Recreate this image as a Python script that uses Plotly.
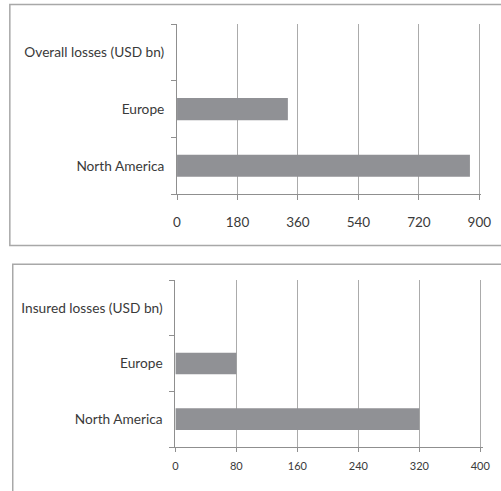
import plotly.graph_objects as go

# Data
categories_top = ["North America", "Europe", "Overall losses (USD bn)"]
overall_losses = [872, 330, None]
categories_bottom = ["North America", "Europe", "Insured losses (USD bn)"]
insured_losses = [320, 80, None]
top_ticks = [0, 180, 360, 540, 720, 900]
bottom_ticks = [0, 80, 160, 240, 320, 400]

W, H = 501, 491
BAR = "#909195"
GRID = "#ababab"
AXIS = "#8f8f8f"
TEXT = "#3a3a3a"
FONT = "Lato"

fig = go.Figure()
fig.add_trace(go.Bar(x=overall_losses, y=categories_top, orientation="h",
                     marker=dict(color=BAR, line=dict(width=0)),
                     xaxis="x", yaxis="y", showlegend=False))
fig.add_trace(go.Bar(x=insured_losses, y=categories_bottom, orientation="h",
                     marker=dict(color=BAR, line=dict(width=0)),
                     xaxis="x2", yaxis="y2", showlegend=False))

def px_x(p):
    return p / W

def px_y(p):
    return 1 - p / H

common_x = dict(showgrid=True, gridcolor=GRID, gridwidth=1, showline=True,
                linecolor=AXIS, linewidth=1, ticks="outside", ticklen=5,
                tickcolor=AXIS, zeroline=False, tickmode="array", fixedrange=True)
common_y = dict(type="category", showgrid=False, showline=True, linecolor=AXIS,
                linewidth=1, ticks="outside", ticklen=5, tickcolor=AXIS,
                tickson="boundaries", ticklabelstandoff=9, fixedrange=True,
                tickfont=dict(family=FONT, size=13.7, color=TEXT))

TOP_MAX = 906
BOT_MAX = 404

fig.update_layout(
    width=W, height=H,
    margin=dict(l=0, r=0, t=0, b=0),
    paper_bgcolor="white", plot_bgcolor="white",
    bargap=0.61,
    font=dict(family=FONT, color=TEXT),
    xaxis=dict(common_x, domain=[px_x(178), px_x(178 + 311 * TOP_MAX / 900)], range=[0, TOP_MAX],
               tickvals=top_ticks, ticktext=[str(t) for t in top_ticks],
               anchor="y", ticklabelstandoff=11,
               tickfont=dict(family=FONT, size=13.5, color=TEXT)),
    yaxis=dict(common_y, domain=[px_y(194), px_y(24.3)], anchor="x",
               categoryorder="array", categoryarray=categories_top),
    xaxis2=dict(common_x, domain=[px_x(176.3), px_x(176.3 + 313.7 * BOT_MAX / 400)], range=[0, BOT_MAX],
                tickvals=bottom_ticks, ticktext=[str(t) for t in bottom_ticks],
                anchor="y2", ticklabelstandoff=5, ticklen=4,
                tickfont=dict(family=FONT, size=11, color=TEXT)),
    yaxis2=dict(common_y, domain=[px_y(447), px_y(280)], anchor="x2",
                categoryorder="array", categoryarray=categories_bottom),
    shapes=[
        dict(type="rect", xref="paper", yref="paper",
             x0=px_x(6), x1=1.1, y0=px_y(245.5), y1=px_y(4.5),
             line=dict(color="#a8a8a8", width=1.5), fillcolor="rgba(0,0,0,0)",
             layer="below"),
        dict(type="rect", xref="paper", yref="paper",
             x0=px_x(9), x1=1.1, y0=-0.1, y1=px_y(264.3),
             line=dict(color="#a8a8a8", width=1.5), fillcolor="rgba(0,0,0,0)",
             layer="below"),
    ],
)

fig.write_html("out.html")
